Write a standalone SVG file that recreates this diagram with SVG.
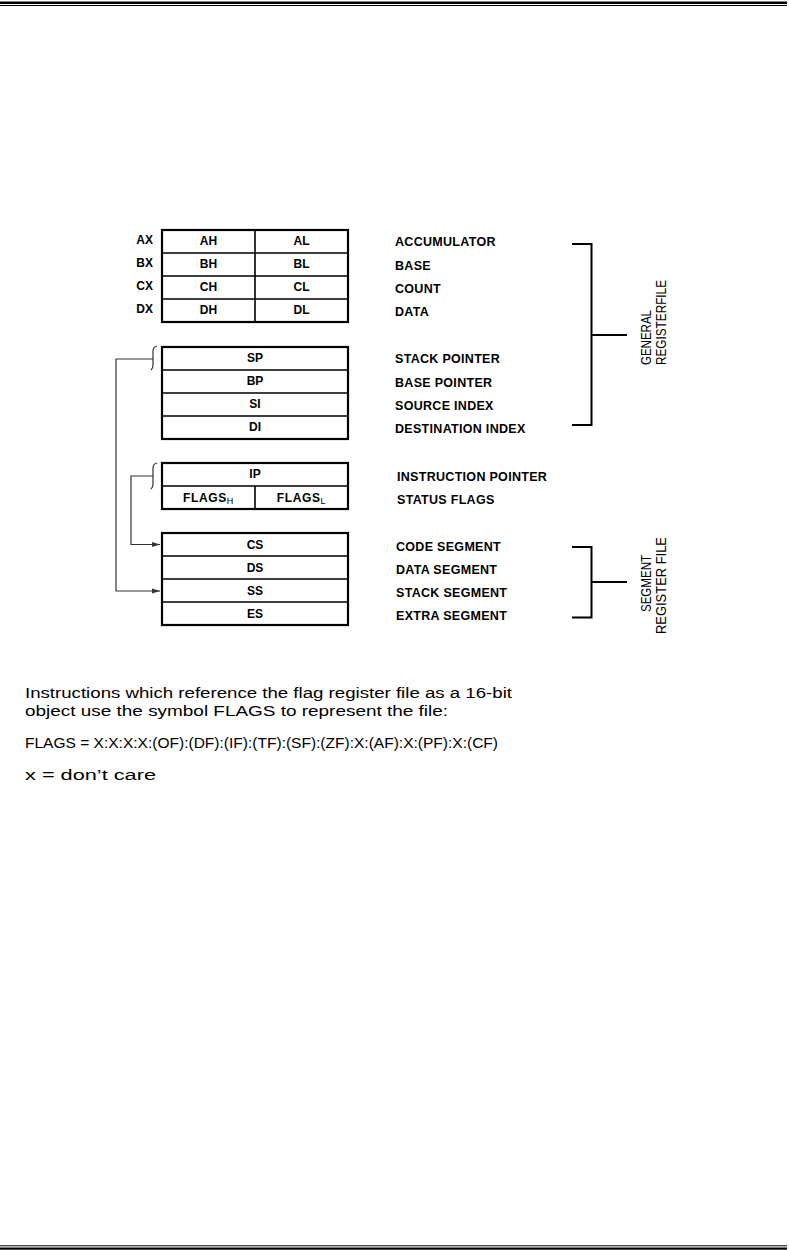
<svg xmlns="http://www.w3.org/2000/svg" width="789" height="1250" viewBox="0 0 789 1250">
<style>
.box{fill:#fff;stroke:#000;stroke-width:2.2}
.div{stroke:#000;stroke-width:1.6;fill:none}
.reg{font-family:"Liberation Sans",Arial,sans-serif;font-weight:bold;font-size:12px;text-anchor:middle;fill:#000}
.lab{font-family:"Liberation Sans",Arial,sans-serif;font-weight:bold;font-size:12px;text-anchor:end;fill:#000}
.desc{font-family:"Liberation Sans",Arial,sans-serif;font-weight:bold;font-size:12.5px;letter-spacing:0.3px;fill:#000}
.rot{font-family:"Liberation Sans",Arial,sans-serif;font-size:15.5px;fill:#000}
.body{font-family:"Liberation Sans",Arial,sans-serif;font-size:15.5px;fill:#000}
.bracket{stroke:#000;stroke-width:2;fill:none}
.conn{stroke:#333;stroke-width:1.2;fill:none}
.tick{stroke:#333;stroke-width:1.2;fill:none}
</style>
<defs>
<marker id="arr" viewBox="0 0 8 6" refX="8" refY="3" markerWidth="8" markerHeight="6" markerUnits="userSpaceOnUse" orient="auto">
<path d="M0,0.5 L8,3 L0,5.5 Z" fill="#333"/>
</marker>
</defs>
<g id="rules">
<rect x="0" y="1.5" width="787" height="2.5" fill="#000"/>
<rect x="0" y="5" width="787" height="1" fill="#000"/>
<rect x="0" y="1245.3" width="787" height="1" fill="#000"/>
<rect x="0" y="1247.5" width="787" height="2.2" fill="#000"/>
</g>
<g id="general-xregs">
<rect class="box" x="162" y="230" width="186" height="92"/>
<path class="div" d="M162,253 H348 M162,276 H348 M162,299 H348 M255,230 V322"/>
<text class="lab" x="153" y="244">AX</text>
<text class="lab" x="153" y="267">BX</text>
<text class="lab" x="153" y="290">CX</text>
<text class="lab" x="153" y="313">DX</text>
<text class="reg" x="208.5" y="245">AH</text>
<text class="reg" x="301.5" y="245">AL</text>
<text class="reg" x="208.5" y="268">BH</text>
<text class="reg" x="301.5" y="268">BL</text>
<text class="reg" x="208.5" y="291">CH</text>
<text class="reg" x="301.5" y="291">CL</text>
<text class="reg" x="208.5" y="314">DH</text>
<text class="reg" x="301.5" y="314">DL</text>
</g>
<g id="pointer-index">
<rect class="box" x="162" y="347" width="186" height="92"/>
<path class="div" d="M162,370 H348 M162,393 H348 M162,416 H348"/>
<text class="reg" x="255" y="362">SP</text>
<text class="reg" x="255" y="385">BP</text>
<text class="reg" x="255" y="408">SI</text>
<text class="reg" x="255" y="431">DI</text>
</g>
<g id="ip-flags">
<rect class="box" x="162" y="463" width="186" height="46"/>
<path class="div" d="M162,486 H348 M255,486 V509"/>
<text class="reg" x="255" y="478">IP</text>
<text class="reg" x="208.5" y="501.5" letter-spacing="0.6">FLAGS<tspan font-size="9px" dy="2.5" font-weight="normal">H</tspan></text>
<text class="reg" x="301.5" y="501.5" letter-spacing="0.6">FLAGS<tspan font-size="9px" dy="2.5" font-weight="normal">L</tspan></text>
</g>
<g id="segment-regs">
<rect class="box" x="162" y="533" width="186" height="92"/>
<path class="div" d="M162,556 H348 M162,579 H348 M162,602 H348"/>
<text class="reg" x="255" y="548.5">CS</text>
<text class="reg" x="255" y="571.5">DS</text>
<text class="reg" x="255" y="594.5">SS</text>
<text class="reg" x="255" y="617.5">ES</text>
</g>
<g id="descriptions">
<text class="desc" x="395" y="246">ACCUMULATOR</text>
<text class="desc" x="395" y="269.5">BASE</text>
<text class="desc" x="395" y="292.5">COUNT</text>
<text class="desc" x="395" y="315.5">DATA</text>
<text class="desc" x="395" y="363">STACK POINTER</text>
<text class="desc" x="395" y="386.5">BASE POINTER</text>
<text class="desc" x="395" y="410">SOURCE INDEX</text>
<text class="desc" x="395" y="433">DESTINATION INDEX</text>
<text class="desc" x="397" y="480.5">INSTRUCTION POINTER</text>
<text class="desc" x="397" y="503.5">STATUS FLAGS</text>
<text class="desc" x="396" y="550.5">CODE SEGMENT</text>
<text class="desc" x="396" y="573.5">DATA SEGMENT</text>
<text class="desc" x="396" y="596.5">STACK SEGMENT</text>
<text class="desc" x="396" y="619.5">EXTRA SEGMENT</text>
</g>
<g id="general-bracket">
<path class="bracket" d="M572,244 H591.5 V425 H572 M591.5,335 H627"/>
<text class="rot" transform="translate(651,365) rotate(-90)" textLength="55" lengthAdjust="spacingAndGlyphs">GENERAL</text>
<text class="rot" transform="translate(666,365) rotate(-90)" textLength="85" lengthAdjust="spacingAndGlyphs">REGISTERFILE</text>
</g>
<g id="segment-bracket">
<path class="bracket" d="M572,547 H591.5 V617.5 H572 M591.5,582 H627"/>
<text class="rot" transform="translate(651,612) rotate(-90)" textLength="57" lengthAdjust="spacingAndGlyphs">SEGMENT</text>
<text class="rot" transform="translate(666,634) rotate(-90)" textLength="97" lengthAdjust="spacingAndGlyphs">REGISTER FILE</text>
</g>
<g id="connectors">
<path class="tick" d="M157,346 Q153,347 153,351 V365 Q153,368 151,370"/>
<path class="tick" d="M157,463 Q153,464 153,468 V484 Q153,487 151,489"/>
<path class="conn" d="M153,359 H116 V591 H160" marker-end="url(#arr)"/>
<path class="conn" d="M153,476 H131 V544.5 H160" marker-end="url(#arr)"/>
</g>
<g id="text-block">
<text class="body" x="25" y="698" textLength="487" lengthAdjust="spacingAndGlyphs">Instructions which reference the flag register file as a 16-bit</text>
<text class="body" x="25" y="716" textLength="423" lengthAdjust="spacingAndGlyphs">object use the symbol FLAGS to represent the file:</text>
<text class="body" x="25" y="748" font-size="14px" textLength="473" lengthAdjust="spacingAndGlyphs">FLAGS = X:X:X:X:(OF):(DF):(IF):(TF):(SF):(ZF):X:(AF):X:(PF):X:(CF)</text>
<text class="body" x="25" y="780" textLength="131" lengthAdjust="spacingAndGlyphs">x = don’t care</text>
</g>
</svg>
